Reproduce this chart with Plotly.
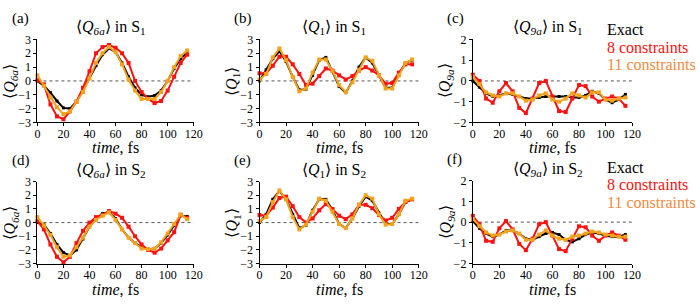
import plotly.graph_objects as go

time = list(range(0, 120, 5))

# Panel (a) <Q6a> in S1
a_exact = [0.0, -0.35, -0.85, -1.45, -1.95, -2.0, -1.5, -0.7, 0.2, 1.1, 1.9, 2.35, 2.1, 1.3, 0.3, -0.5, -1.0, -1.15, -1.05, -0.7, 0.0, 0.9, 1.6, 2.05]
a_c8 = [0.05, -0.25, -1.7, -2.56, -2.77, -2.2, -1.5, -0.5, 0.7, 2.0, 2.45, 2.6, 2.4, 2.0, 1.3, 0.0, -0.8, -1.3, -1.6, -1.45, -0.7, 0.3, 1.3, 1.9]
a_c11 = [0.4, -0.35, -1.2, -1.9, -2.4, -2.2, -1.5, -0.8, 0.2, 1.3, 2.0, 2.45, 2.1, 1.2, 0.1, -0.7, -1.3, -1.3, -1.3, -0.8, 0.0, 1.0, 1.8, 2.2]

# Panel (b) <Q1> in S1
b_exact = [0.0, 0.8, 1.6, 2.15, 1.4, 0.3, -0.65, -0.6, 0.4, 1.5, 1.7, 0.7, -0.4, -0.85, 0.0, 1.0, 1.7, 1.3, 0.4, -0.5, -0.5, 0.5, 1.3, 1.5]
b_c8 = [0.55, 0.55, 1.1, 1.75, 1.75, 1.2, 0.5, -0.3, -0.2, 0.35, 0.9, 0.75, 0.4, 0.1, 0.35, 0.75, 1.0, 0.75, 0.4, -0.2, -0.15, 0.6, 1.2, 1.2]
b_c11 = [0.1, 0.5, 1.7, 2.35, 1.5, 0.3, -0.75, -0.55, 0.6, 1.55, 1.55, 0.7, -0.3, -0.8, -0.1, 0.8, 1.7, 1.45, 0.4, -0.55, -0.55, 0.4, 1.3, 1.55]

# Panel (c) <Q9a> in S1
c_exact = [0.0, -0.3, -0.6, -0.75, -0.7, -0.6, -0.65, -0.75, -0.85, -0.85, -0.8, -0.75, -0.75, -0.75, -0.75, -0.8, -0.8, -0.7, -0.5, -0.6, -0.9, -1.05, -0.9, -0.65]
c_c8 = [0.3, 0.0, -0.85, -1.05, -0.5, -0.1, -0.5, -1.3, -1.55, -0.85, -0.1, 0.0, -0.75, -1.45, -1.5, -0.85, -0.2, -0.25, -0.75, -1.0, -0.85, -0.75, -0.85, -1.2]
c_c11 = [0.2, -0.15, -0.55, -0.7, -0.75, -0.6, -0.6, -0.75, -0.95, -0.9, -0.7, -0.6, -0.9, -1.0, -0.85, -0.6, -0.7, -0.8, -0.55, -0.55, -0.9, -0.95, -0.85, -0.8]

# Panel (d) <Q6a> in S2
d_exact = [0.0, -0.15, -0.8, -1.6, -2.2, -2.4, -2.0, -1.2, -0.3, 0.3, 0.65, 0.75, 0.3, -0.5, -1.1, -1.5, -1.8, -1.95, -1.9, -1.5, -0.9, -0.2, 0.5, 0.45]
d_c8 = [0.1, -0.5, -1.6, -2.5, -2.9, -2.5, -1.5, -0.6, 0.0, 0.4, 0.55, 0.85, 0.65, 0.35, -0.3, -1.0, -1.6, -2.0, -2.2, -1.9, -1.3, -0.7, 0.55, 0.35]
d_c11 = [0.4, -0.2, -0.9, -1.8, -2.5, -2.4, -1.8, -1.1, -0.3, 0.2, 0.5, 0.75, 0.2, -0.5, -1.1, -1.5, -1.9, -1.95, -1.9, -1.45, -0.8, -0.1, 0.6, 0.25]

# Panel (e) <Q1> in S2
e_exact = [0.0, 0.6, 1.7, 2.3, 1.7, 0.6, -0.4, -0.2, 0.9, 1.7, 1.7, 0.9, -0.1, -0.4, 0.3, 1.2, 1.9, 1.6, 0.7, -0.1, -0.1, 0.6, 1.5, 1.7]
e_c8 = [0.55, 0.5, 1.1, 1.8, 1.9, 1.2, 0.4, 0.0, 0.3, 0.9, 1.35, 1.0, 0.5, 0.25, 0.6, 1.3, 1.3, 1.05, 0.55, 0.15, 0.35, 1.0, 1.5, 1.7]
e_c11 = [0.1, 0.4, 1.5, 2.35, 1.7, 0.4, -0.5, -0.15, 0.8, 1.75, 1.6, 0.8, -0.1, -0.4, 0.3, 1.3, 2.0, 1.75, 0.6, -0.15, -0.1, 0.6, 1.6, 1.75]

# Panel (f) <Q9a> in S2
f_exact = [0.05, -0.3, -0.55, -0.7, -0.6, -0.4, -0.4, -0.55, -0.8, -0.85, -0.7, -0.55, -0.5, -0.6, -0.85, -0.95, -0.8, -0.6, -0.5, -0.55, -0.65, -0.7, -0.7, -0.6]
f_c8 = [0.3, -0.1, -0.9, -0.95, -0.3, 0.05, -0.35, -1.05, -1.35, -0.8, -0.1, 0.0, -0.65, -1.3, -1.4, -0.8, -0.2, -0.25, -0.65, -0.9, -0.65, -0.5, -0.65, -0.85]
f_c11 = [0.15, -0.2, -0.5, -0.65, -0.6, -0.45, -0.4, -0.55, -0.85, -0.85, -0.6, -0.4, -0.65, -0.8, -0.85, -0.7, -0.65, -0.55, -0.45, -0.5, -0.6, -0.65, -0.7, -0.7]

x_ticks = [0, 20, 40, 60, 80, 100, 120]
legend_labels = ["Exact", "8 constraints", "11 constraints"]

W, H = 700, 304
BLACK = "#000000"
RED = "#ff1111"
ORANGE = "#f5a21b"
ORANGE_TXT = "#f08a3c"
FONT = "Liberation Serif, Times New Roman, Times, serif"

panels = [
    dict(lab="(a)", q="6a", s="1", ex=a_exact, c8=a_c8, c11=a_c11, rng=[-3, 3], px=(35, 194), py=(34, 121), leg=None, xt=147.5),
    dict(lab="(b)", q="1", s="1", ex=b_exact, c8=b_c8, c11=b_c11, rng=[-3, 3], px=(261, 423), py=(34, 121), leg=None, xt=147.5),
    dict(lab="(c)", q="9a", s="1", ex=c_exact, c8=c_c8, c11=c_c11, rng=[-2, 2], px=(478, 640), py=(34, 121), leg=24, xt=147.5),
    dict(lab="(d)", q="6a", s="2", ex=d_exact, c8=d_c8, c11=d_c11, rng=[-3, 3], px=(35, 194), py=(183, 269), leg=None, xt=296),
    dict(lab="(e)", q="1", s="2", ex=e_exact, c8=e_c8, c11=e_c11, rng=[-3, 3], px=(261, 423), py=(183, 269), leg=None, xt=296),
    dict(lab="(f)", q="9a", s="2", ex=f_exact, c8=f_c8, c11=f_c11, rng=[-2, 2], px=(478, 640), py=(182, 269), leg=168, xt=296),
]

fig = go.Figure()
annotations = []
shapes = []
layout = {}

def qtxt(q):
    return "\u27e8<i>Q</i><sub><i>%s</i></sub>\u27e9" % q if q != "1" else "\u27e8<i>Q</i><sub>1</sub>\u27e9"

for i, p in enumerate(panels):
    n = i + 1
    xa = "x" if n == 1 else "x%d" % n
    ya = "y" if n == 1 else "y%d" % n
    xkey = "xaxis" if n == 1 else "xaxis%d" % n
    ykey = "yaxis" if n == 1 else "yaxis%d" % n
    x0, x1 = p["px"]
    y0, y1 = p["py"]
    dom_x = [x0 / W, x1 / W]
    dom_y = [1 - y1 / H, 1 - y0 / H]
    layout[xkey] = dict(domain=dom_x, range=[0, 120], anchor=ya, tickvals=x_ticks,
                        showline=True, linecolor="black", linewidth=1, ticks="outside",
                        ticklen=3, tickcolor="black", showgrid=False, zeroline=False,
                        ticklabelstandoff=-3,
                        tickfont=dict(family=FONT, size=12, color="black"))
    ytv = list(range(p["rng"][0], p["rng"][1] + 1))
    layout[ykey] = dict(domain=dom_y, range=p["rng"], anchor=xa, tickvals=ytv,
                        showline=True, linecolor="black", linewidth=1, ticks="outside",
                        ticklen=3, tickcolor="black", showgrid=False, zeroline=False,
                        tickfont=dict(family=FONT, size=12, color="black"))
    # zero reference line
    shapes.append(dict(type="line", xref=xa, yref=ya, x0=0, x1=120, y0=0, y1=0,
                       line=dict(color="#555555", width=1, dash="dot"), layer="below"))
    # traces
    fig.add_trace(go.Scatter(x=time, y=p["ex"], mode="lines+markers", xaxis=xa, yaxis=ya,
                             line=dict(color=BLACK, width=2), marker=dict(symbol="square", size=3, color=BLACK),
                             cliponaxis=False, showlegend=False))
    fig.add_trace(go.Scatter(x=time, y=p["c8"], mode="lines+markers", xaxis=xa, yaxis=ya,
                             line=dict(color=RED, width=2), marker=dict(symbol="square", size=4, color=RED),
                             cliponaxis=False, showlegend=False))
    fig.add_trace(go.Scatter(x=time, y=p["c11"], mode="lines+markers", xaxis=xa, yaxis=ya,
                             line=dict(color=ORANGE, width=2), marker=dict(symbol="square", size=4, color=ORANGE),
                             cliponaxis=False, showlegend=False))
    # title
    annotations.append(dict(text=qtxt(p["q"]) + " in S<sub>%s</sub>" % p["s"], xref="paper", yref="paper",
                            x=((x0 + x1) / 2 - 5) / W, y=1 - (y0 - 12) / H, showarrow=False,
                            xanchor="center", yanchor="middle",
                            font=dict(family=FONT, size=16, color="black")))
    # panel label
    annotations.append(dict(text=p["lab"], xref="paper", yref="paper",
                            x=(x0 - 28) / W, y=1 - (y0 - 22) / H, showarrow=False,
                            xanchor="left", yanchor="middle",
                            font=dict(family=FONT, size=15, color="black")))
    # y-axis title
    annotations.append(dict(text=qtxt(p["q"]), xref="paper", yref="paper",
                            x=(x0 - 27) / W, y=1 - ((y0 + y1) / 2) / H, showarrow=False,
                            xanchor="center", yanchor="middle", textangle=-90,
                            font=dict(family=FONT, size=16, color="black")))
    # x-axis title
    annotations.append(dict(text="<i>time</i>, fs", xref="paper", yref="paper",
                            x=((x0 + x1) / 2) / W, y=1 - p["xt"] / H, showarrow=False,
                            xanchor="center", yanchor="middle",
                            font=dict(family=FONT, size=16, color="black")))
    # legend texts in right-column panels
    if p["leg"] is not None:
        for j, (lbl, col) in enumerate(zip(legend_labels, [BLACK, RED, ORANGE_TXT])):
            annotations.append(dict(text=lbl, xref="paper", yref="paper",
                                    x=612 / W, y=1 - (p["leg"] + j * 18.3) / H, showarrow=False,
                                    xanchor="left", yanchor="middle",
                                    font=dict(family=FONT, size=16, color=col)))

fig.update_layout(width=W, height=H, margin=dict(l=0, r=0, t=0, b=0),
                  paper_bgcolor="white", plot_bgcolor="white",
                  font=dict(family=FONT, size=12, color="black"),
                  annotations=annotations, shapes=shapes, **layout)

fig.write_html("out.html")
